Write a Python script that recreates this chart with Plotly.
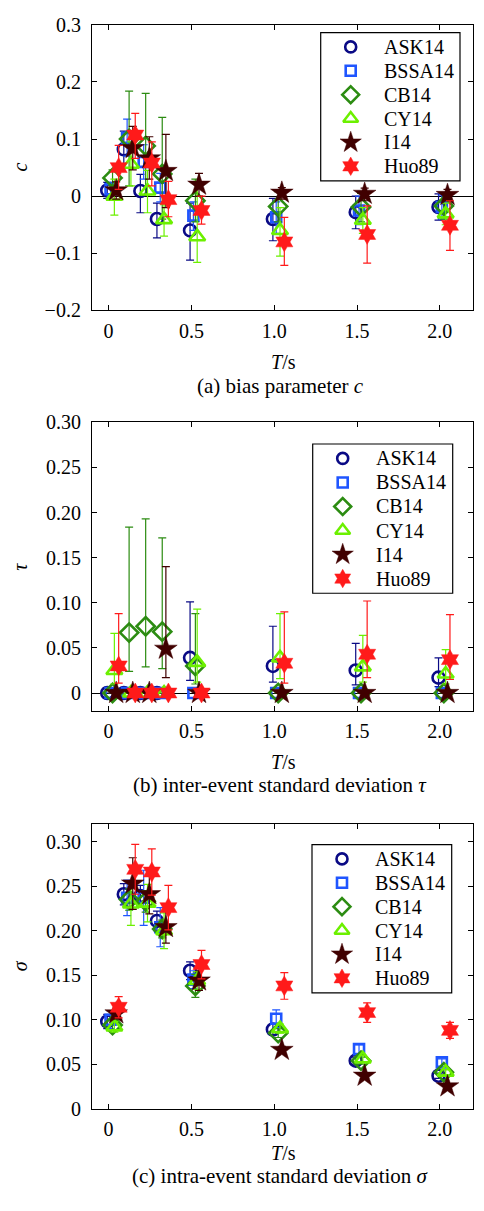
import plotly.graph_objects as go

# ---------------- data ----------------
periods = [0, 0.1, 0.2, 0.3, 0.5, 1.0, 1.5, 2.0]
models = ["ASK14", "BSSA14", "CB14", "CY14", "I14", "Huo89"]

x_tick_vals = [0, 0.5, 1.0, 1.5, 2.0]
x_tick_text = ["0", "0.5", "1.0", "1.5", "2.0"]
c_tick_vals = [-0.2, -0.1, 0, 0.1, 0.2, 0.3]
c_tick_text = ["\u22120.2", "\u22120.1", "0", "0.1", "0.2", "0.3"]
s_tick_vals = [0, 0.05, 0.10, 0.15, 0.20, 0.25, 0.30]
s_tick_text = ["0", "0.05", "0.10", "0.15", "0.20", "0.25", "0.30"]

# (a) bias parameter c : value, lower bar end, upper bar end
c_ASK14 = [0.010, 0.082, 0.009, -0.040, -0.060, -0.040, -0.028, -0.019]
c_ASK14_lo = [-0.004, 0.050, -0.029, -0.073, -0.112, -0.078, -0.057, -0.042]
c_ASK14_hi = [0.024, 0.114, 0.038, -0.012, -0.012, -0.004, 0.000, 0.004]
c_BSSA14 = [0.012, 0.102, 0.060, 0.015, -0.034, -0.037, -0.025, -0.019]
c_BSSA14_lo = [0.000, 0.070, 0.030, -0.010, -0.060, -0.065, -0.050, -0.040]
c_BSSA14_hi = [0.024, 0.135, 0.090, 0.040, -0.010, -0.010, 0.000, 0.002]
c_CB14 = [0.032, 0.100, 0.088, 0.039, -0.008, -0.018, -0.019, -0.017]
c_CB14_lo = [0.018, 0.018, 0.002, -0.040, -0.045, -0.045, -0.045, -0.040]
c_CB14_hi = [0.046, 0.184, 0.180, 0.138, 0.030, 0.008, 0.005, 0.006]
c_CY14 = [0.000, 0.056, 0.009, -0.041, -0.071, -0.060, -0.042, -0.031]
c_CY14_lo = [-0.033, 0.018, -0.029, -0.070, -0.116, -0.105, -0.065, -0.050]
c_CY14_hi = [0.030, 0.095, 0.045, -0.015, 0.026, -0.020, -0.020, -0.012]
c_I14 = [0.010, 0.084, 0.066, 0.044, 0.020, 0.006, 0.004, 0.002]
c_I14_lo = [-0.005, 0.046, 0.030, -0.020, 0.000, -0.005, -0.008, -0.008]
c_I14_hi = [0.025, 0.122, 0.104, 0.108, 0.040, 0.015, 0.014, 0.012]
c_Huo89 = [0.050, 0.107, 0.058, -0.006, -0.025, -0.080, -0.067, -0.051]
c_Huo89_lo = [0.012, 0.066, 0.018, -0.036, -0.049, -0.121, -0.117, -0.095]
c_Huo89_hi = [0.089, 0.145, 0.095, 0.026, 0.000, -0.037, -0.017, -0.008]

# (b) inter-event standard deviation tau
t_ASK14 = [0, 0, 0, 0, 0.039, 0.030, 0.025, 0.017]
t_ASK14_lo = [0, 0, 0, 0, 0.014, 0.012, 0.009, 0.007]
t_ASK14_hi = [0, 0, 0, 0, 0.101, 0.074, 0.055, 0.039]
t_BSSA14 = [0, 0, 0, 0, 0, 0, 0, 0]
t_BSSA14_lo = [0, 0, 0, 0, 0, 0, 0, 0]
t_BSSA14_hi = [0, 0, 0, 0, 0, 0, 0, 0]
t_CB14 = [0, 0.067, 0.074, 0.068, 0.030, 0, 0, 0]
t_CB14_lo = [0, 0.024, 0.029, 0.027, 0.010, 0, 0, 0]
t_CB14_hi = [0, 0.184, 0.193, 0.172, 0.088, 0, 0, 0]
t_CY14 = [0.025, 0, 0, 0, 0.034, 0.039, 0.029, 0.021]
t_CY14_lo = [0.010, 0, 0, 0, 0.012, 0.016, 0.012, 0.010]
t_CY14_hi = [0.066, 0, 0, 0, 0.093, 0.088, 0.064, 0.048]
t_I14 = [0, 0, 0, 0.049, 0, 0, 0, 0]
t_I14_lo = [0, 0, 0, 0.017, 0, 0, 0, 0]
t_I14_hi = [0, 0, 0, 0.140, 0, 0, 0, 0]
t_Huo89 = [0.030, 0, 0, 0, 0, 0.033, 0.043, 0.037]
t_Huo89_lo = [0.011, 0, 0, 0, 0, 0.011, 0.017, 0.015]
t_Huo89_hi = [0.088, 0, 0, 0, 0, 0.090, 0.102, 0.087]

# (c) intra-event standard deviation sigma : value and +/- error
s_ASK14 = [0.098, 0.241, 0.239, 0.211, 0.155, 0.089, 0.054, 0.037]
s_ASK14_err = [0.008, 0.012, 0.012, 0.011, 0.010, 0.006, 0.004, 0.003]
s_BSSA14 = [0.100, 0.237, 0.237, 0.204, 0.145, 0.101, 0.067, 0.052]
s_BSSA14_err = [0.010, 0.020, 0.031, 0.022, 0.010, 0.010, 0.005, 0.004]
s_CB14 = [0.094, 0.235, 0.233, 0.202, 0.138, 0.085, 0.054, 0.041]
s_CB14_err = [0.006, 0.012, 0.012, 0.010, 0.013, 0.005, 0.004, 0.003]
s_CY14 = [0.092, 0.230, 0.231, 0.200, 0.144, 0.090, 0.056, 0.041]
s_CY14_err = [0.006, 0.024, 0.021, 0.020, 0.010, 0.005, 0.004, 0.003]
s_I14 = [0.107, 0.253, 0.241, 0.204, 0.144, 0.066, 0.037, 0.025]
s_I14_err = [0.006, 0.029, 0.022, 0.018, 0.011, 0.004, 0.003, 0.002]
s_Huo89 = [0.114, 0.269, 0.266, 0.226, 0.162, 0.138, 0.108, 0.088]
s_Huo89_err = [0.012, 0.028, 0.026, 0.025, 0.016, 0.015, 0.011, 0.009]

# ---------------- style ----------------
FONT = "Liberation Serif, Times New Roman, serif"
style = {
    "ASK14": dict(color="#0a0a85", symbol="circle-open", size=12, lsize=11, lw=2.6, dx=-0.008),
    "BSSA14": dict(color="#1f55ff", symbol="square-open", size=10, lsize=10, lw=2.6, dx=0.012),
    "CB14": dict(color="#2c8c12", symbol="diamond-open", size=14, lsize=13, lw=2.6, dx=0.024),
    "CY14": dict(color="#6cf000", symbol="triangle-up-open", size=14, lsize=13, lw=2.6, dx=0.035),
    "I14": dict(color="#400000", symbol="star", size=17, lsize=16, lw=0.5, dx=0.046),
    "Huo89": dict(color="#ff1a1a", symbol="hexagram", size=15, lsize=14, lw=0.5, dx=0.061),
}

panel_a = {m: (globals()["c_" + m], globals()["c_" + m + "_lo"], globals()["c_" + m + "_hi"]) for m in models}
panel_b = {m: (globals()["t_" + m], globals()["t_" + m + "_lo"], globals()["t_" + m + "_hi"]) for m in models}
panel_c = {m: (globals()["s_" + m], globals()["s_" + m + "_err"]) for m in models}

W, H = 484, 1211
xdom = [92 / W, 473 / W]
ydoms = {
    1: [1 - 305 / H, 1 - 14 / H],
    2: [1 - 713 / H, 1 - 419 / H],
    3: [1 - 1118 / H, 1 - 828 / H],
}
# legend boxes in pixels: left, top, right, bottom
legend_box = {1: (320.7, 22, 460, 173), 2: (312.7, 441, 452.7, 593), 3: (312, 849, 451.7, 1000)}

fig = go.Figure()


def add_panel(k, data, kind):
    xa = "x" if k == 1 else f"x{k}"
    ya = "y" if k == 1 else f"y{k}"
    for m in models:
        st = style[m]
        xs = [p + st["dx"] for p in periods]
        if kind == "range":
            v, lo, hi = data[m]
            plus = [h - a for h, a in zip(hi, v)]
            minus = [a - l for a, l in zip(v, lo)]
            show = any(p > 0 for p in plus) or any(q > 0 for q in minus)
            err = dict(type="data", symmetric=False, array=plus, arrayminus=minus,
                       color=st["color"], thickness=1.2, width=4, visible=show)
        else:
            v, e = data[m]
            err = dict(type="data", array=e, color=st["color"], thickness=1.2, width=4)
        fig.add_trace(go.Scatter(
            x=xs, y=v, mode="markers", name=m, xaxis=xa, yaxis=ya, showlegend=False,
            error_y=err,
            marker=dict(symbol=st["symbol"], size=st["size"], color=st["color"], opacity=1,
                        line=dict(color=st["color"], width=st["lw"])),
        ))


add_panel(1, panel_a, "range")
add_panel(2, panel_b, "range")
add_panel(3, panel_c, "err")

# manual legends (one small invisible axis pair per legend box)
rows = [i + 0.6 for i in range(len(models))]
shapes = []
ann = []
for k in (1, 2, 3):
    j = k + 3
    l, t, r, b = legend_box[k]
    for m, yy in zip(models, rows):
        st = style[m]
        fig.add_trace(go.Scatter(
            x=[30 / (r - l)], y=[yy], mode="markers", showlegend=False, opacity=1,
            xaxis=f"x{j}", yaxis=f"y{j}", hoverinfo="skip",
            marker=dict(symbol=st["symbol"], size=st["lsize"], color=st["color"], opacity=1,
                        line=dict(color=st["color"], width=st["lw"])),
        ))
        ann.append(dict(text=m, x=61 / (r - l), y=yy, xref=f"x{j}", yref=f"y{j}", showarrow=False,
                        xanchor="left", yanchor="middle", font=dict(family=FONT, size=20, color="black")))
    shapes.append(dict(type="rect", xref=f"x{j} domain", yref=f"y{j} domain", x0=0, x1=1, y0=0, y1=1,
                       line=dict(color="black", width=1.2), fillcolor="rgba(0,0,0,0)", layer="above"))

axis_common = dict(showline=True, linecolor="black", linewidth=1.2, mirror="ticks",
                   ticks="inside", ticklen=5, tickcolor="black", showgrid=False,
                   tickfont=dict(family=FONT, size=20, color="black"))

layout = dict(
    width=W, height=H, margin=dict(l=0, r=0, t=0, b=0),
    paper_bgcolor="white", plot_bgcolor="white", showlegend=False,
    font=dict(family=FONT, size=20, color="black"),
)
yconf = {
    1: dict(range=[-0.2, 0.3], tickvals=c_tick_vals, ticktext=c_tick_text),
    2: dict(range=[-0.02, 0.30], tickvals=s_tick_vals, ticktext=s_tick_text),
    3: dict(range=[0, 0.32], tickvals=s_tick_vals, ticktext=s_tick_text),
}
for k in (1, 2, 3):
    sx = "xaxis" if k == 1 else f"xaxis{k}"
    sy = "yaxis" if k == 1 else f"yaxis{k}"
    layout[sx] = dict(axis_common, domain=xdom, range=[-0.1, 2.2], tickvals=x_tick_vals,
                      ticktext=x_tick_text, anchor="y" if k == 1 else f"y{k}",
                      zeroline=False, ticklabelstandoff=2)
    layout[sy] = dict(axis_common, domain=ydoms[k], anchor="x" if k == 1 else f"x{k}",
                      zeroline=(k != 3), zerolinecolor="black", zerolinewidth=1.2,
                      ticklabelstandoff=6, **yconf[k])
for k in (1, 2, 3):
    j = k + 3
    l, t, r, b = legend_box[k]
    layout[f"xaxis{j}"] = dict(domain=[l / W, r / W], range=[0, 1], visible=False,
                               fixedrange=True, anchor=f"y{j}")
    layout[f"yaxis{j}"] = dict(domain=[1 - b / H, 1 - t / H], range=[6.21, 0], visible=False,
                               fixedrange=True, anchor=f"x{j}")

fig.update_layout(**layout)

xt_y = {1: 358, 2: 765, 3: 1163}
cap_y = {1: 382, 2: 788, 3: 1187}
captions = {1: "(a) bias parameter <i>c</i>",
            2: "(b) inter-event standard deviation <i>\u03c4</i>",
            3: "(c) intra-event standard deviation <i>\u03c3</i>"}
ytitles = {1: "<i>c</i>", 2: "<i>\u03c4</i>", 3: "<i>\u03c3</i>"}
ymid = {1: (14 + 305) / 2, 2: (419 + 713) / 2, 3: (828 + 1118) / 2}
for k in (1, 2, 3):
    ann.append(dict(text="<i>T</i>/s", x=283 / W, y=1 - xt_y[k] / H, xref="paper", yref="paper",
                    showarrow=False, font=dict(family=FONT, size=20), xanchor="center", yanchor="middle"))
    ann.append(dict(text=captions[k], x=280 / W, y=1 - cap_y[k] / H, xref="paper", yref="paper",
                    showarrow=False, font=dict(family=FONT, size=21), xanchor="center", yanchor="middle"))
    ann.append(dict(text=ytitles[k], x=20 / W, y=1 - ymid[k] / H, xref="paper", yref="paper",
                    showarrow=False, textangle=-90, font=dict(family=FONT, size=20),
                    xanchor="center", yanchor="middle"))
fig.update_layout(annotations=ann, shapes=shapes)

fig.write_html("out.html")
